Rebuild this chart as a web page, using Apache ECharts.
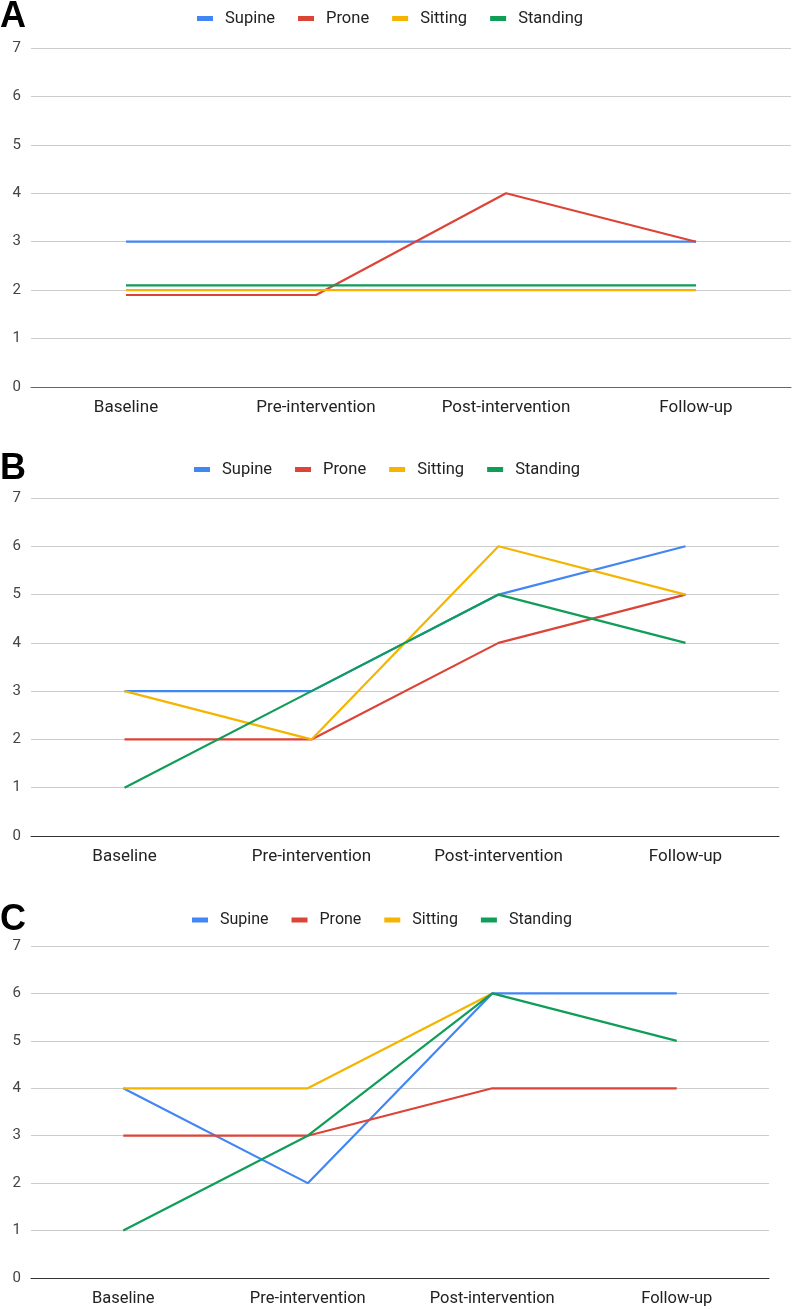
<!DOCTYPE html>
<html>
<head>
<meta charset="utf-8">
<script src="https://cdn.jsdelivr.net/npm/echarts@6/dist/echarts.min.js"></script>
<style>html,body{margin:0;padding:0;background:#fff}#c{width:792px;height:1309px}</style>
</head>
<body>
<div id="c"></div>
<script>
var categories = ['Baseline', 'Pre-intervention', 'Post-intervention', 'Follow-up'];
var seriesNames = ['Supine', 'Prone', 'Sitting', 'Standing'];
var yTicks = [0, 1, 2, 3, 4, 5, 6, 7];
var panelLabels = ['A', 'B', 'C'];

// Panel A
var aSupine   = [3, 3, 3, 3];
var aProne    = [1.9, 1.9, 4, 3];
var aSitting  = [2, 2, 2, 2];
var aStanding = [2.1, 2.1, 2.1, 2.1];
// Panel B
var bSupine   = [3, 3, 5, 6];
var bProne    = [2, 2, 4, 5];
var bSitting  = [3, 2, 6, 5];
var bStanding = [1, 3, 5, 4];
// Panel C
var cSupine   = [4, 2, 6, 6];
var cProne    = [3, 3, 4, 4];
var cSitting  = [4, 4, 6, null];
var cStanding = [1, 3, 6, 5];

var panels = [
  [aSupine, aProne, aSitting, aStanding],
  [bSupine, bProne, bSitting, bStanding],
  [cSupine, cProne, cSitting, cStanding]
];

var colors = ['#4285F4', '#DB4437', '#F4B400', '#0F9D58'];
var gridsLayout = [
  {left: 31, top: 48, width: 760, height: 339},
  {left: 31, top: 498, width: 748, height: 338},
  {left: 31, top: 946, width: 738, height: 332}
];
var legendLayout = [{left: 197, top: 10}, {left: 194, top: 461}, {left: 192, top: 912}];
var legendFont = [16.5, 16.5, 16];
var xFont = [17, 17, 16.5];
var letterTop = [-1, 451, 902];
var baseColor = ['#666', '#333', '#333'];

var font = 'Roboto, "Noto Sans", sans-serif';
var grids = [], xAxes = [], yAxes = [], series = [], legends = [], graphics = [];
panels.forEach(function (p, i) {
  grids.push(gridsLayout[i]);
  xAxes.push({
    type: 'category', gridIndex: i, data: categories, boundaryGap: true,
    axisLine: {show: true, lineStyle: {color: baseColor[i], width: 1}},
    axisTick: {show: false},
    axisLabel: {color: '#222', fontSize: xFont[i], fontFamily: font, margin: 12, interval: 0},
    splitLine: {show: false}
  });
  yAxes.push({
    type: 'value', gridIndex: i, min: yTicks[0], max: yTicks[yTicks.length - 1], interval: 1,
    axisLine: {show: false}, axisTick: {show: false},
    axisLabel: {color: '#444', fontSize: 15, fontFamily: font, margin: 10},
    splitLine: {show: true, lineStyle: {color: '#ccc', width: 1}}
  });
  p.forEach(function (vals, k) {
    series.push({
      name: seriesNames[k], type: 'line', xAxisIndex: i, yAxisIndex: i,
      data: vals, showSymbol: false, symbol: 'none', connectNulls: false,
      lineStyle: {color: colors[k], width: 2.2}, itemStyle: {color: colors[k]},
      animation: false, z: 2 + k
    });
  });
  legends.push({
    left: legendLayout[i].left, top: legendLayout[i].top, orient: 'horizontal',
    data: seriesNames, icon: 'rect', itemWidth: 16, itemHeight: 5, itemGap: 23, padding: 0,
    selectedMode: false,
    textStyle: {color: '#222', fontSize: legendFont[i], fontFamily: font, padding: [0, 0, 0, 7]}
  });
  graphics.push({
    type: 'text', left: 0, top: letterTop[i],
    style: {text: panelLabels[i], fontSize: 36, fontWeight: 'bold', fontFamily: 'Liberation Sans, Arial, sans-serif', fill: '#000'}
  });
});

var chart = echarts.init(document.getElementById('c'), null, {renderer: 'canvas'});
chart.setOption({
  animation: false,
  color: colors,
  grid: grids, xAxis: xAxes, yAxis: yAxes, series: series, legend: legends,
  graphic: graphics
});
</script>
</body>
</html>
